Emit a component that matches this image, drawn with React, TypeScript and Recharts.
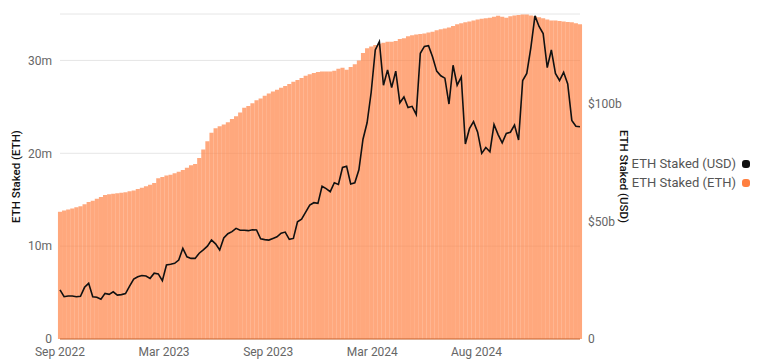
import { ComposedChart, Bar, Line, XAxis, YAxis, CartesianGrid } from 'recharts';

const startDate = Date.UTC(2022, 8, 15);
const weekMs = 7 * 24 * 3600 * 1000;

// ETH staked, millions of ETH (weekly)
const ethStaked = [
  13.7, 13.85, 13.95, 14.05, 14.2, 14.3, 14.5, 14.75, 14.9, 15.1,
  15.3, 15.5, 15.6, 15.65, 15.7, 15.75, 15.8, 15.9, 16.0, 16.15,
  16.3, 16.45, 16.6, 16.8, 17.3, 17.45, 17.6, 17.7, 17.85, 18.0,
  18.2, 18.45, 18.7, 18.85, 19.5, 20.4, 21.3, 22.2, 22.7, 22.9,
  23.1, 23.35, 23.7, 24.0, 24.4, 24.9, 25.1, 25.4, 25.7, 25.9,
  26.2, 26.45, 26.65, 26.85, 27.05, 27.25, 27.45, 27.7, 27.9, 28.1,
  28.35, 28.5, 28.65, 28.75, 28.8, 28.8, 28.8, 28.9, 29.1, 29.2,
  29.0, 29.3, 29.6, 30.0, 30.8, 31.3, 31.5, 31.65, 31.8, 31.9,
  32.0, 32.0, 32.1, 32.3, 32.4, 32.6, 32.7, 32.8, 32.85, 32.9,
  33.0, 33.1, 33.25, 33.35, 33.45, 33.55, 33.7, 33.9, 34.0, 34.1,
  34.2, 34.3, 34.4, 34.5, 34.55, 34.6, 34.7, 34.8, 34.7, 34.6,
  34.75, 34.85, 34.9, 34.95, 34.95, 34.85, 34.75, 34.65, 34.55, 34.4,
  34.3, 34.3, 34.25, 34.2, 34.15, 34.1, 34.0, 33.9,
];

// ETH staked, billions of USD (weekly)
const usdStaked = [
  20.9, 18.0, 18.3, 18.3, 18.0, 18.2, 22.0, 23.7, 18.0, 17.8,
  16.9, 19.4, 19.0, 20.1, 18.7, 18.9, 19.3, 22.5, 25.5, 26.5,
  27.0, 26.8, 25.8, 28.0, 27.7, 24.8, 31.5, 31.8, 32.2, 33.6,
  38.6, 35.0, 34.3, 34.3, 36.5, 37.9, 39.5, 42.1, 40.5, 37.9,
  43.0, 44.8, 45.7, 47.1, 46.3, 46.3, 46.1, 46.5, 46.4, 42.6,
  42.3, 42.1, 42.8, 43.5, 45.0, 45.5, 42.4, 42.8, 49.9, 51.0,
  54.0, 57.0, 58.0, 57.7, 65.0, 64.0, 62.7, 66.5, 65.8, 73.0,
  73.5, 66.0, 66.5, 72.0, 85.0, 92.0, 105.0, 123.0, 126.5, 108.0,
  114.5, 107.0, 114.0, 100.5, 103.0, 98.5, 99.0, 95.5, 121.6, 124.5,
  124.8, 120.0, 114.0, 112.0, 111.0, 100.0, 116.5, 108.0, 111.5, 83.0,
  89.5, 92.5, 88.0, 79.0, 81.5, 79.7, 91.3, 87.0, 83.5, 87.5,
  88.0, 91.0, 84.7, 110.0, 113.0, 124.0, 137.5, 133.0, 130.0, 115.5,
  123.0, 113.0, 110.0, 113.5, 108.5, 93.0, 90.5, 90.3,
];

const xTickDates = ['2022-09-15', '2023-03-12', '2023-09-06', '2024-03-02', '2024-08-27'];
const ethTicks = [0, 10, 20, 30];
const usdTicks = [0, 50, 100];

const seriesNames = ['ETH Staked (USD)', 'ETH Staked (ETH)'];

const data = ethStaked.map((eth, i) => ({
  t: startDate + i * weekMs,
  eth,
  usd: usdStaked[i],
}));

const xTicks = xTickDates.map((d) => Date.parse(d + 'T00:00:00Z'));

const fmtMonth = (t: number) =>
  new Date(t).toLocaleDateString('en-US', { month: 'short', year: 'numeric', timeZone: 'UTC' });

const font = 'Roboto, "Noto Sans", sans-serif';
const tickStyle = { fill: '#666', fontSize: 12, fontFamily: font };

const LeftLabel = (props: any) => {
  const { x, y, height } = props.viewBox;
  const cx = x + 16;
  const cy = y + height / 2;
  return (
    <text x={cx} y={cy} transform={`rotate(-90 ${cx} ${cy})`} textAnchor="middle"
      dominantBaseline="central" fill="#111" fontSize={11.5} fontWeight={500} fontFamily={font}>
      ETH Staked (ETH)
    </text>
  );
};

const RightLabel = (props: any) => {
  const { x, y, height } = props.viewBox;
  const cx = x + 44;
  const cy = y + height / 2;
  return (
    <text x={cx} y={cy} transform={`rotate(90 ${cx} ${cy})`} textAnchor="middle"
      dominantBaseline="central" fill="#111" fontSize={11.5} fontWeight={500} fontFamily={font}>
      ETH Staked (USD)
    </text>
  );
};

const colors = ['#111111', '#ff7f3f'];

export default function App() {
  return (
    <div style={{ position: 'absolute', left: 0, top: 0, width: 758, height: 363, background: '#fff' }}>
      <ComposedChart
        width={758}
        height={363}
        data={data}
        margin={{ top: 14, right: 128, bottom: 0, left: 0 }}
        barGap={0}
        barCategoryGap={0}
      >
        <CartesianGrid yAxisId="eth" vertical={false} stroke="#e6e6e6" />
        <XAxis
          dataKey="t"
          type="number"
          domain={['dataMin', 'dataMax']}
          ticks={xTicks}
          tickFormatter={fmtMonth}
          tick={tickStyle}
          tickLine={false}
          axisLine={{ stroke: '#c9642f' }}
          height={24}
        />
        <YAxis
          yAxisId="eth"
          orientation="left"
          width={60}
          domain={[0, 35]}
          ticks={ethTicks}
          tickFormatter={(v: number) => (v === 0 ? '0' : `${v}m`)}
          tick={tickStyle}
          tickLine={false}
          axisLine={false}
          label={LeftLabel}
        />
        <YAxis
          yAxisId="usd"
          orientation="right"
          width={50}
          domain={[0, 138.3]}
          ticks={usdTicks}
          tickFormatter={(v: number) => (v === 0 ? '0' : `$${v}b`)}
          tick={tickStyle}
          tickLine={false}
          axisLine={false}
          label={RightLabel}
        />
        <Bar
          yAxisId="eth"
          dataKey="eth"
          name={seriesNames[1]}
          fill={colors[1]}
          fillOpacity={0.68}
          barSize={4.09}
          isAnimationActive={false}
        />
        <Line
          yAxisId="usd"
          dataKey="usd"
          name={seriesNames[0]}
          stroke={colors[0]}
          strokeWidth={1.6}
          dot={false}
          type="linear"
          isAnimationActive={false}
        />
      </ComposedChart>
      <div
        style={{
          position: 'absolute',
          left: 600,
          top: 154,
          width: 150,
          fontFamily: font,
          fontSize: 13,
          color: '#555',
        }}
      >
        {seriesNames.map((name, i) => (
          <div
            key={name}
            style={{ display: 'flex', justifyContent: 'flex-end', alignItems: 'center', height: 19, gap: 6 }}
          >
            <span>{name}</span>
            <span style={{ width: 8, height: 8, borderRadius: 3, background: colors[i], display: 'inline-block' }} />
          </div>
        ))}
      </div>
    </div>
  );
}
